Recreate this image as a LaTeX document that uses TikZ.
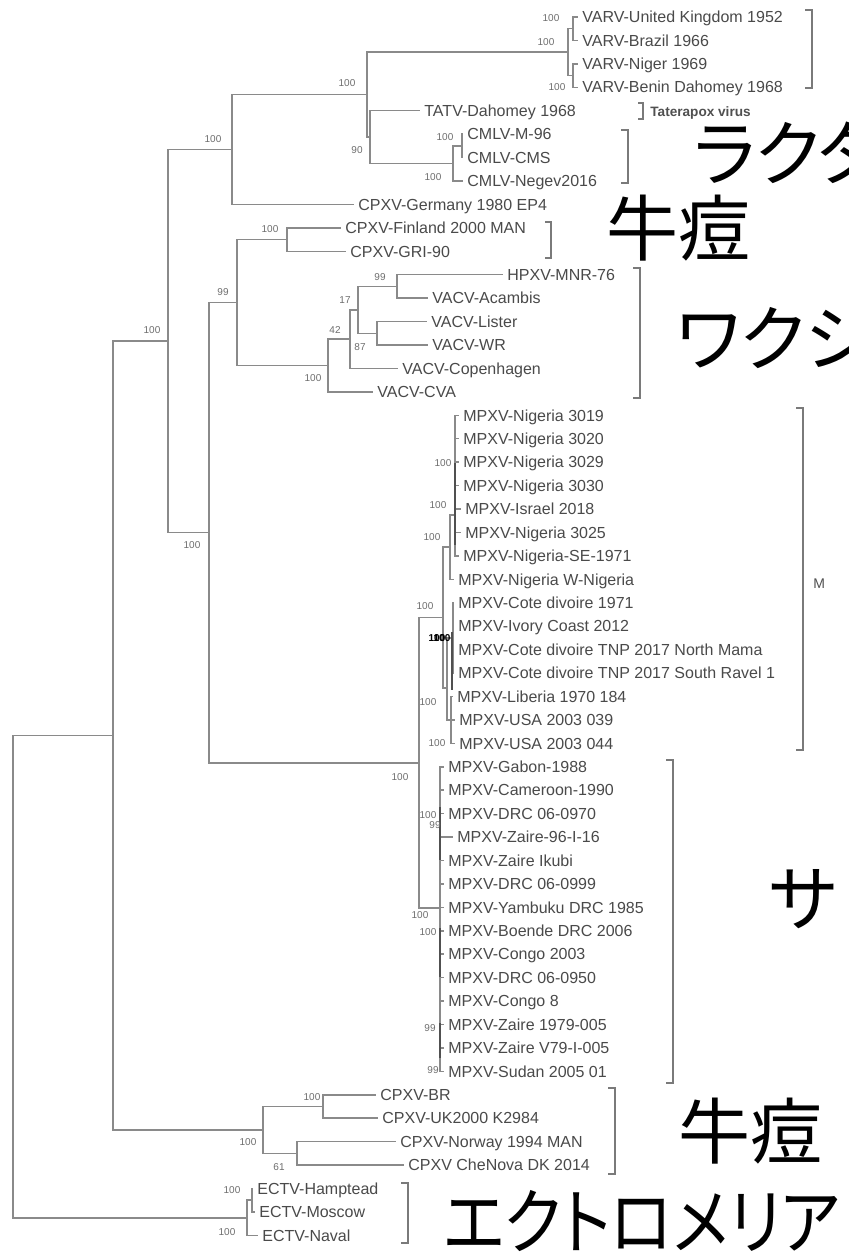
\documentclass[tikz,border=0pt]{standalone}
\usepackage{fontspec}
\setmainfont{Liberation Sans}
\newfontfamily\jpfont[RawFeature=+palt]{Noto Sans CJK JP}
\definecolor{lc}{HTML}{8A8A8A}
\definecolor{tc}{HTML}{4A4A4A}
\definecolor{bc}{HTML}{6E6E6E}
\definecolor{bkc}{HTML}{7A7A7A}
\definecolor{dk}{HTML}{505050}
\tikzset{
  br/.style={draw=lc, line width=0.75pt},
  dkbar/.style={draw=dk, line width=1.1pt},
  leaf/.style={anchor=west, inner xsep=2pt, inner ysep=0pt, text height=5.7pt, text depth=0pt, font=\fontsize{8}{9}\selectfont, text=tc},
  bs/.style={font=\fontsize{5}{6}\selectfont, text=bc, inner sep=0pt},
  bsk/.style={font=\fontsize{5}{6}\selectfont\bfseries, text=black, inner sep=0pt},
  brk/.style={draw=bkc, line width=0.65pt},
  jp/.style={anchor=base west, inner sep=0pt, font=\jpfont\fontsize{36}{40}\selectfont, text=black},
}
\begin{document}
\begin{tikzpicture}[x=0.5pt,y=-0.5pt]
\fill[white] (0,0) rectangle (849,1252);
\useasboundingbox (0,0) rectangle (849,1252);
\clip (0,0) rectangle (849,1252);

% ---------------- leaves ----------------
\node[leaf] (l0) at (578,17.0) {VARV-United Kingdom 1952};
\node[leaf] (l1) at (578,40.4) {VARV-Brazil 1966};
\node[leaf] (l2) at (578,63.9) {VARV-Niger 1969};
\node[leaf] (l3) at (578,87.3) {VARV-Benin Dahomey 1968};
\node[leaf] (l4) at (420,110.7) {TATV-Dahomey 1968};
\node[leaf] (l5) at (463,134.2) {CMLV-M-96};
\node[leaf] (l6) at (463,157.6) {CMLV-CMS};
\node[leaf] (l7) at (463,181.0) {CMLV-Negev2016};
\node[leaf] (l8) at (354,204.4) {CPXV-Germany 1980 EP4};
\node[leaf] (l9) at (341,227.9) {CPXV-Finland 2000 MAN};
\node[leaf] (l10) at (346,251.3) {CPXV-GRI-90};
\node[leaf] (l11) at (503,274.7) {HPXV-MNR-76};
\node[leaf] (l12) at (428,298.2) {VACV-Acambis};
\node[leaf] (l13) at (427,321.6) {VACV-Lister};
\node[leaf] (l14) at (428,345.0) {VACV-WR};
\node[leaf] (l15) at (398,368.5) {VACV-Copenhagen};
\node[leaf] (l16) at (373,391.9) {VACV-CVA};
\node[leaf] (l17) at (459,415.3) {MPXV-Nigeria 3019};
\node[leaf] (l18) at (459,438.7) {MPXV-Nigeria 3020};
\node[leaf] (l19) at (459,462.2) {MPXV-Nigeria 3029};
\node[leaf] (l20) at (459,485.6) {MPXV-Nigeria 3030};
\node[leaf] (l21) at (461,509.0) {MPXV-Israel 2018};
\node[leaf] (l22) at (461,532.5) {MPXV-Nigeria 3025};
\node[leaf] (l23) at (459,555.9) {MPXV-Nigeria-SE-1971};
\node[leaf] (l24) at (454,579.3) {MPXV-Nigeria W-Nigeria};
\node[leaf] (l25) at (454,602.8) {MPXV-Cote divoire 1971};
\node[leaf] (l26) at (454,626.2) {MPXV-Ivory Coast 2012};
\node[leaf] (l27) at (454,649.6) {MPXV-Cote divoire TNP 2017 North Mama};
\node[leaf] (l28) at (454,673.0) {MPXV-Cote divoire TNP 2017 South Ravel 1};
\node[leaf] (l29) at (453,696.5) {MPXV-Liberia 1970 184};
\node[leaf] (l30) at (455,719.9) {MPXV-USA 2003 039};
\node[leaf] (l31) at (455,743.3) {MPXV-USA 2003 044};
\node[leaf] (l32) at (444,766.8) {MPXV-Gabon-1988};
\node[leaf] (l33) at (444,790.2) {MPXV-Cameroon-1990};
\node[leaf] (l34) at (444,813.6) {MPXV-DRC 06-0970};
\node[leaf] (l35) at (453,837.1) {MPXV-Zaire-96-I-16};
\node[leaf] (l36) at (444,860.5) {MPXV-Zaire Ikubi};
\node[leaf] (l37) at (444,883.9) {MPXV-DRC 06-0999};
\node[leaf] (l38) at (444,907.3) {MPXV-Yambuku DRC 1985};
\node[leaf] (l39) at (444,930.8) {MPXV-Boende DRC 2006};
\node[leaf] (l40) at (444,954.2) {MPXV-Congo 2003};
\node[leaf] (l41) at (444,977.6) {MPXV-DRC 06-0950};
\node[leaf] (l42) at (444,1001.1) {MPXV-Congo 8};
\node[leaf] (l43) at (444,1024.5) {MPXV-Zaire 1979-005};
\node[leaf] (l44) at (444,1047.9) {MPXV-Zaire V79-I-005};
\node[leaf] (l45) at (444,1071.4) {MPXV-Sudan 2005 01};
\node[leaf] (l46) at (376,1094.8) {CPXV-BR};
\node[leaf] (l47) at (378,1118.2) {CPXV-UK2000 K2984};
\node[leaf] (l48) at (396,1141.6) {CPXV-Norway 1994 MAN};
\node[leaf] (l49) at (404,1165.1) {CPXV CheNova DK 2014};
\node[leaf] (l50) at (253,1188.5) {ECTV-Hamptead};
\node[leaf] (l51) at (255,1211.9) {ECTV-Moscow};
\node[leaf] (l52) at (258,1235.4) {ECTV-Naval};

% ---------------- internal nodes ----------------
\coordinate (v1) at (573,28.7);
\coordinate (v2) at (573,75.6);
\coordinate (V) at (568,52.2);
\coordinate (m1) at (462,145.9);
\coordinate (M) at (453,163.4);
\coordinate (C2) at (370,137.1);
\coordinate (C) at (367,94.6);
\coordinate (E) at (232,149.5);
\coordinate (H) at (287,239.6);
\coordinate (K) at (397,286.4);
\coordinate (L) at (377,333.3);
\coordinate (N17) at (358,309.9);
\coordinate (N42) at (350,339.2);
\coordinate (I) at (328,365.5);
\coordinate (G) at (237,302.6);
\coordinate (N2) at (455,515);
\coordinate (N1) at (450,547);
\coordinate (Cg) at (453,638);
\coordinate (Lg) at (451,720);
\coordinate (N3) at (447,688);
\coordinate (W) at (443,617.5);
\coordinate (Ce) at (440,908);
\coordinate (MP) at (419,762.8);
\coordinate (F) at (209,532.7);
\coordinate (B) at (168,341.1);
\coordinate (P) at (323,1106.5);
\coordinate (Q) at (297,1153.4);
\coordinate (D) at (263,1130);
\coordinate (A) at (113,735.5);
\coordinate (e1) at (252,1200.2);
\coordinate (Ect) at (247,1217.8);
\coordinate (R) at (13,976.7);

% ---------------- connectors ----------------
\draw[br] (R) |- (A); \draw[br] (R) |- (Ect);
\draw[br] (A) |- (B); \draw[br] (A) |- (D);
\draw[br] (B) |- (E); \draw[br] (B) |- (F);
\draw[br] (E) |- (C); \draw[br] (E) |- (l8.west);
\draw[br] (C) |- (V); \draw[br] (C) |- (C2);
\draw[br] (V) |- (v1); \draw[br] (V) |- (v2);
\draw[br] (v1) |- (l0.west); \draw[br] (v1) |- (l1.west);
\draw[br] (v2) |- (l2.west); \draw[br] (v2) |- (l3.west);
\draw[br] (C2) |- (l4.west); \draw[br] (C2) |- (M);
\draw[br] (M) |- (m1); \draw[br] (M) |- (l7.west);
\draw[br] (m1) |- (l5.west); \draw[br] (m1) |- (l6.west);
\draw[br] (F) |- (G); \draw[br] (F) |- (MP);
\draw[br] (G) |- (H); \draw[br] (G) |- (I);
\draw[br] (H) |- (l9.west); \draw[br] (H) |- (l10.west);
\draw[br] (I) |- (N42); \draw[br] (I) |- (l16.west);
\draw[br] (N42) |- (N17); \draw[br] (N42) |- (l15.west);
\draw[br] (N17) |- (K); \draw[br] (N17) |- (L);
\draw[br] (K) |- (l11.west); \draw[br] (K) |- (l12.west);
\draw[br] (L) |- (l13.west); \draw[br] (L) |- (l14.west);
\draw[br] (MP) |- (W); \draw[br] (MP) |- (Ce);
\draw[br] (W) |- (N1); \draw[br] (W) |- (N3);
\draw[br] (N1) |- (N2); \draw[br] (N1) |- (l24.west);
\foreach \k in {17,...,23} {\draw[br] (N2) |- (l\k.west);}
\draw[br] (N3) |- (Cg); \draw[br] (N3) |- (Lg);
\foreach \k in {25,...,28} {\draw[br] (Cg) |- (l\k.west);}
\foreach \k in {29,...,31} {\draw[br] (Lg) |- (l\k.west);}
\foreach \k in {32,...,45} {\draw[br] (Ce) |- (l\k.west);}
\draw[br] (D) |- (P); \draw[br] (D) |- (Q);
\draw[br] (P) |- (l46.west); \draw[br] (P) |- (l47.west);
\draw[br] (Q) |- (l48.west); \draw[br] (Q) |- (l49.west);
\draw[br] (Ect) |- (e1); \draw[br] (Ect) |- (l52.west);
\draw[br] (e1) |- (l50.west); \draw[br] (e1) |- (l51.west);

% darker short bars on the near-zero branches
\draw[dkbar] (455,463) -- (455,545);
\draw[dkbar] (452,632) -- (452,690);
\draw[dkbar] (440,807) -- (440,860);
\draw[dkbar] (440,928) -- (440,977);
\draw[dkbar] (440,1023) -- (440,1058);

% ---------------- bootstrap values ----------------
\node[bs] (b1) at (551,18) {100};
\node[bs] (b2) at (546,42) {100};
\node[bs] (b3) at (557,87) {100};
\node[bs] (b4) at (347,83) {100};
\node[bs] (b5) at (357,150) {90};
\node[bs] (b6) at (445,137) {100};
\node[bs] (b7) at (433,177) {100};
\node[bs] (b8) at (213,139) {100};
\node[bs] (b9) at (152,330) {100};
\node[bs] (b10) at (192,545) {100};
\node[bs] (b11) at (223,292) {99};
\node[bs] (b12) at (270,229) {100};
\node[bs] (b13) at (380,277) {99};
\node[bs] (b14) at (345,300) {17};
\node[bs] (b15) at (335,330) {42};
\node[bs] (b16) at (360,347) {87};
\node[bs] (b17) at (313,378) {100};
\node[bs] (b18) at (443,463) {100};
\node[bs] (b19) at (438,505) {100};
\node[bs] (b20) at (432,537) {100};
\node[bs] (b21) at (425,606) {100};
\node[bsk] (b22) at (437,638) {100};
\node[bsk] (b23) at (442,638) {100};
\node[bs] (b24) at (428,702) {100};
\node[bs] (b25) at (437,743) {100};
\node[bs] (b26) at (400,777) {100};
\node[bs] (b27) at (420,915) {100};
\node[bs] (b28) at (428,932) {100};
\node[bs] (b29) at (428,815) {100};
\node[bs] (b30) at (435,825) {99};
\node[bs] (b31) at (430,1028) {99};
\node[bs] (b32) at (433,1070) {99};
\node[bs] (b33) at (312,1097) {100};
\node[bs] (b34) at (248,1142) {100};
\node[bs] (b35) at (279,1167) {61};
\node[bs] (b36) at (232,1190) {100};
\node[bs] (b37) at (227,1232) {100};

% ---------------- group brackets ----------------
\draw[brk] (805,10) -- (812,10) -- (812,88) -- (805,88);
\draw[brk] (638,103) -- (643,103) -- (643,119) -- (638,119);
\draw[brk] (621,130) -- (628,130) -- (628,183) -- (621,183);
\draw[brk] (545,222) -- (551,222) -- (551,258) -- (545,258);
\draw[brk] (633,268) -- (640,268) -- (640,398) -- (633,398);
\draw[brk] (796,408) -- (803,408) -- (803,750) -- (796,750);
\draw[brk] (666,760) -- (673,760) -- (673,1083) -- (666,1083);
\draw[brk] (608,1088) -- (615,1088) -- (615,1174) -- (608,1174);
\draw[brk] (401,1183) -- (408,1183) -- (408,1243) -- (401,1243);

\node[anchor=west, inner sep=0pt, text height=5pt, text depth=0pt, font=\fontsize{6.8}{8}\selectfont\bfseries, text=dk] (tpx) at (650,112) {Taterapox virus};
\node[anchor=west, inner sep=0pt, font=\fontsize{7}{8}\selectfont, text=dk] (mcut) at (813,584) {M};

% ---------------- Japanese labels ----------------
\node[jp] (jlak) at (693,180) {ラクタ};
\node[jp] (jgyu1) at (606,255) {牛痘};
\node[jp] (jwak) at (676,365) {ワクシ};
\node[jp] (jsa) at (769,925) {サ};
\node[jp] (jgyu2) at (678,1158) {牛痘};
\node[jp] (ject) at (443,1248) {\scalebox{0.885}[1]{エクトロメリア}};
\end{tikzpicture}
\end{document}
